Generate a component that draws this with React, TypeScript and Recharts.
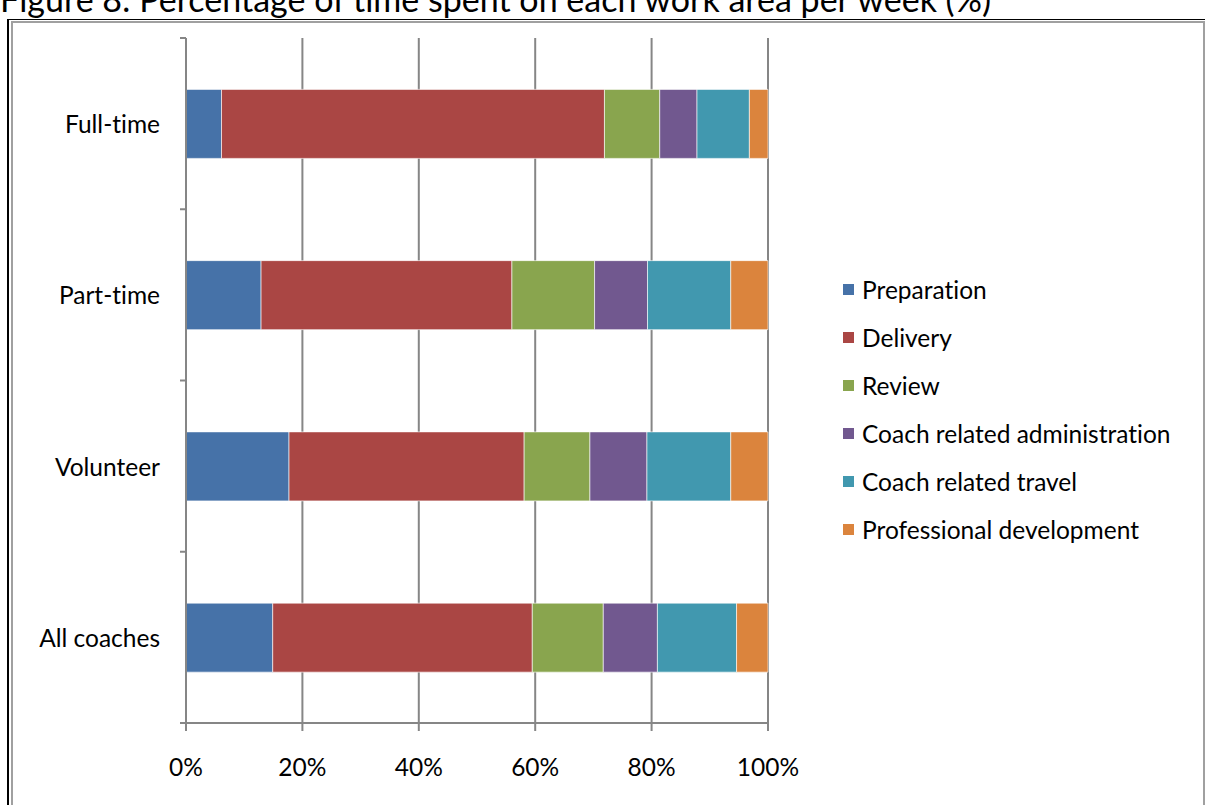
import { BarChart, Bar, XAxis, YAxis, CartesianGrid, Legend } from "recharts";

// share of weekly hours per work area, by coach type (each row adds to 100)
const categories = ["Full-time", "Part-time", "Volunteer", "All coaches"];
const preparation = [6.1, 12.9, 17.7, 14.9];
const delivery = [65.8, 43.1, 40.4, 44.6];
const review = [9.5, 14.2, 11.3, 12.2];
const administration = [6.4, 9.1, 9.8, 9.3];
const travel = [9.0, 14.3, 14.4, 13.6];
const development = [3.2, 6.4, 6.4, 5.4];
const percentTicks = [0, 20, 40, 60, 80, 100];

const seriesList = [
    { key: "preparation", name: "Preparation", color: "#4672a8", values: preparation },
    { key: "delivery", name: "Delivery", color: "#aa4644", values: delivery },
    { key: "review", name: "Review", color: "#89a54e", values: review },
    { key: "administration", name: "Coach related administration", color: "#71588f", values: administration },
    { key: "travel", name: "Coach related travel", color: "#4198af", values: travel },
    { key: "development", name: "Professional development", color: "#db843d", values: development },
];

const data = categories.map((name, i) => {
    const row: Record<string, string | number> = { name };
    seriesList.forEach((s) => {
        row[s.key] = s.values[i];
    });
    return row;
});

const FONT = "Lato, 'Open Sans', sans-serif";
const FONT_SIZE = 24.5;
const AXIS_GREY = "#868686";
const TICK_SIZE = 6;
const TICK_MARGIN = 20;
// Lato joins "ti" by default, switch that off
const noLigatures = { fontVariantLigatures: "none" as const };

// category label plus the small divider ticks Excel puts between categories
const CategoryTick = (props: any) => {
    const { x, y, payload, index, visibleTicksCount } = props;
    const half = payload.offset ?? 0;
    const axisX = x + TICK_SIZE + TICK_MARGIN;
    const isLast = index === visibleTicksCount - 1;
    return (
        <g>
            <line x1={axisX - TICK_SIZE} x2={axisX} y1={y - half} y2={y - half} stroke={AXIS_GREY} strokeWidth={2} />
            {isLast && (
                <line x1={axisX - TICK_SIZE} x2={axisX} y1={y + half} y2={y + half} stroke={AXIS_GREY} strokeWidth={2} />
            )}
            <text
                x={x}
                y={y}
                textAnchor="end"
                dominantBaseline="central"
                fontSize={FONT_SIZE}
                fontFamily={FONT}
                fill="#000"
                style={noLigatures}
            >
                {payload.value}
            </text>
        </g>
    );
};

// keep the legend in series order rather than alphabetical
const LegendBox = ({ payload }: any) => {
    const items = [...(payload || [])].sort(
        (a: any, b: any) =>
            seriesList.findIndex((s) => s.name === a.value) - seriesList.findIndex((s) => s.name === b.value)
    );
    return (
        <div style={{ fontFamily: FONT, fontSize: FONT_SIZE, color: "#000", ...noLigatures }}>
            {items.map((item: any) => (
                <div key={item.value} style={{ display: "flex", alignItems: "center", height: 48 }}>
                    <span style={{ width: 11, height: 11, background: item.color, marginRight: 8, display: "inline-block" }} />
                    <span>{item.value}</span>
                </div>
            ))}
        </div>
    );
};

const App = () => {
    return (
        <div style={pageStyle}>
            <div style={titleStyle}>Figure 8: Percentage of time spent on each work area per week (%)</div>
            <div style={frameOuter}>
                <div style={frameInner} />
            </div>
            <div style={{ position: "absolute", left: 0, top: 0 }}>
                <BarChart
                    width={1205}
                    height={805}
                    data={data}
                    layout="vertical"
                    barCategoryGap="30%"
                    margin={{ top: 38, right: 437, bottom: 42, left: 0 }}
                >
                    <CartesianGrid horizontal={false} stroke={AXIS_GREY} strokeWidth={2} />
                    <XAxis
                        type="number"
                        domain={[0, 100]}
                        ticks={percentTicks}
                        tickFormatter={(v) => `${v}%`}
                        height={40}
                        tickSize={8}
                        tickMargin={28}
                        axisLine={{ stroke: AXIS_GREY, strokeWidth: 2 }}
                        tickLine={{ stroke: AXIS_GREY, strokeWidth: 2 }}
                        tick={{ fontSize: FONT_SIZE, fontFamily: FONT, fill: "#000" }}
                    />
                    <YAxis
                        type="category"
                        dataKey="name"
                        width={186}
                        tickSize={TICK_SIZE}
                        tickMargin={TICK_MARGIN}
                        tickLine={false}
                        axisLine={{ stroke: AXIS_GREY, strokeWidth: 2 }}
                        tick={<CategoryTick />}
                    />
                    <Legend
                        layout="vertical"
                        align="center"
                        verticalAlign="middle"
                        content={<LegendBox />}
                        wrapperStyle={{ left: 843, top: 265, width: 360 }}
                    />
                    {seriesList.map((s) => (
                        <Bar
                            key={s.key}
                            dataKey={s.key}
                            name={s.name}
                            stackId="coach"
                            fill={s.color}
                            stroke="rgba(255,255,255,0.6)"
                            strokeWidth={1}
                            isAnimationActive={false}
                        />
                    ))}
                </BarChart>
            </div>
        </div>
    );
};

const pageStyle = {
    position: "absolute" as const,
    left: 0,
    top: 0,
    width: 1205,
    height: 805,
    overflow: "hidden",
    background: "#fff",
};
const titleStyle = {
    position: "absolute" as const,
    left: 0,
    top: -18,
    fontFamily: FONT,
    fontSize: 34,
    lineHeight: "34px",
    whiteSpace: "nowrap" as const,
    color: "#000",
    ...noLigatures,
};
const frameOuter = {
    position: "absolute" as const,
    left: 7,
    top: 19,
    width: 1196,
    height: 800,
    borderLeft: "2px solid #000",
    borderTop: "1px solid #000",
};
const frameInner = {
    position: "absolute" as const,
    left: 2,
    top: 1,
    right: 0,
    bottom: 0,
    border: "2px solid #a0a0a0",
};

export default App;
